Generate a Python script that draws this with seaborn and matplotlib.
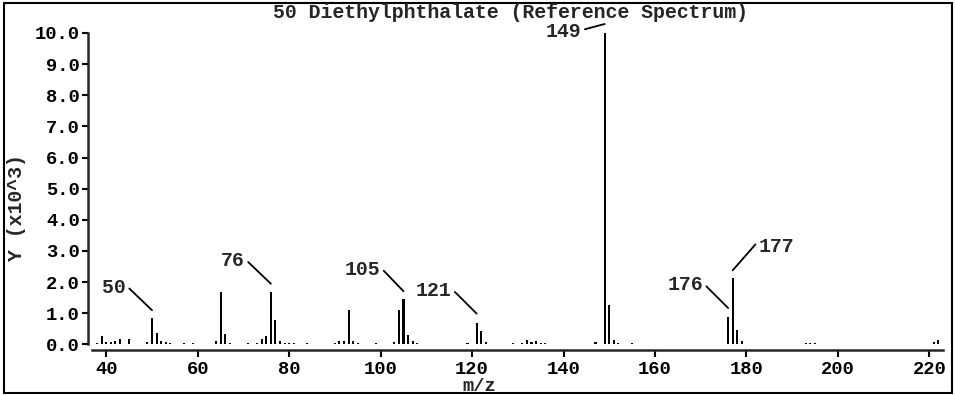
import numpy as np
import pandas as pd
import matplotlib
matplotlib.use("Agg")
import matplotlib.pyplot as plt
import matplotlib.patches as mpatches
from matplotlib.transforms import ScaledTranslation
import seaborn as sns

# ---- data (m/z, intensity in units of 10^3) ----
mz = [38, 39, 40, 41, 42, 43, 45, 49, 50, 51, 52, 53, 54, 57, 59,
      64, 65, 66, 67, 71, 73, 74, 75, 76, 77, 78, 79, 80, 81, 84,
      90, 91, 92, 93, 94, 95, 99, 103, 104, 105, 106, 107, 108,
      119, 121, 122, 123, 129, 131, 132, 133, 134, 135, 136,
      147, 149, 150, 151, 152, 155, 176, 177, 178, 179,
      193, 194, 195, 221, 222]
intensity = [0.05, 0.26, 0.08, 0.08, 0.10, 0.16, 0.16, 0.08, 0.84, 0.35, 0.10, 0.08, 0.05, 0.05, 0.05,
             0.12, 1.69, 0.34, 0.05, 0.04, 0.05, 0.18, 0.27, 1.69, 0.78, 0.10, 0.06, 0.05, 0.05, 0.05,
             0.05, 0.12, 0.12, 1.12, 0.10, 0.04, 0.05, 0.08, 1.12, 1.45, 0.30, 0.10, 0.04,
             0.06, 0.70, 0.44, 0.08, 0.05, 0.05, 0.15, 0.08, 0.10, 0.05, 0.04,
             0.08, 10.0, 1.25, 0.15, 0.05, 0.05, 0.88, 2.12, 0.46, 0.10,
             0.05, 0.05, 0.04, 0.08, 0.15]
labeled_peaks = [50, 76, 105, 121, 149, 176, 177]
x_ticks = [40, 60, 80, 100, 120, 140, 160, 180, 200, 220]
y_ticks = [0, 1, 2, 3, 4, 5, 6, 7, 8, 9, 10]
title = "50 Diethylphthalate (Reference Spectrum)"
xlabel = "m/z"
ylabel = "Y (x10^3)"

df = pd.DataFrame({"mz": mz, "y": intensity})

sns.set_style("ticks")
plt.rcParams["font.family"] = ["Liberation Mono", "DejaVu Sans Mono"]
plt.rcParams["font.weight"] = "bold"
FS = 14.3
FS_TICK = 13.5

fig = plt.figure(figsize=(9.55, 3.95), dpi=100)
W, H = 955, 395
left, right, top, bottom = 88, 943, 33, 350
ax = fig.add_axes([left / W, 1 - bottom / H, (right - left) / W, (bottom - top) / H])

sns.barplot(data=df, x="mz", y="y", native_scale=True, width=0.45,
            color="black", errorbar=None, linewidth=0, saturation=1, ax=ax)

ax.set_xlim(36.0, 223.0)
ax.set_ylim(-0.18, 10.0)
ax.set_xticks(x_ticks)
ax.set_xticklabels([str(t) for t in x_ticks], fontsize=FS_TICK, fontweight="bold")
ax.set_yticks(y_ticks)
ax.set_yticklabels([f"{t:.1f}" for t in y_ticks], fontsize=FS_TICK, fontweight="bold")
ax.tick_params(axis="x", direction="out", length=5, width=1.5, pad=3, colors="black")
ax.tick_params(axis="y", direction="out", length=4, width=1.5, pad=2, colors="black")

for s in ["top", "right"]:
    ax.spines[s].set_visible(False)
ax.spines["left"].set_linewidth(1.8)
ax.spines["bottom"].set_linewidth(1.8)
ax.spines["left"].set_bounds(0, 10)
ax.spines["bottom"].set_bounds(36.9, 223.0)

ax.set_xlabel(xlabel, fontsize=FS_TICK, fontweight="bold")
ax.set_ylabel(ylabel, fontsize=FS, fontweight="bold")
ax.xaxis.set_label_coords(0.458, -0.088)
ax.yaxis.set_label_coords(-0.072, 0.45)

fig.text(0.535, 1 - 12 / H, title, ha="center", va="center", fontsize=FS, fontweight="bold")

# annotation layout: (gap above peak in px, text dx, text dy, ha, relpos)
ann_style = {
    50: (8, -26, 23, "right", (1.0, 0.6)),
    76: (8, -26, 23, "right", (1.0, 0.6)),
    105: (8, -23, 22, "right", (1.0, 0.6)),
    121: (9, -25, 23, "right", (1.0, 0.6)),
    149: (9, -23, -8, "right", (1.0, 0.6)),
    176: (9, -25, 23, "right", (1.0, 0.6)),
    177: (8, 26, 24, "left", (0.0, 0.8)),
}
pt = 72.0 / fig.dpi
for m in labeled_peaks:
    v = intensity[mz.index(m)]
    gap, dx, dy, ha, rp = ann_style[m]
    trans = ax.transData + ScaledTranslation(0, gap / fig.dpi, fig.dpi_scale_trans)
    ax.annotate(str(m), xy=(m, v), xycoords=trans,
                xytext=(dx * pt, dy * pt), textcoords="offset points",
                ha=ha, va="center", fontsize=FS, fontweight="bold", annotation_clip=False,
                arrowprops=dict(arrowstyle="-", color="black", lw=1.3,
                                shrinkA=0, shrinkB=0, relpos=rp))

fig.patches.append(mpatches.Rectangle((4 / W, 1 - 393 / H), (952 - 4) / W, (393 - 3) / H,
                                      transform=fig.transFigure, fill=False,
                                      edgecolor="black", linewidth=1.5))

fig.savefig("out.png", dpi=100, facecolor="white")
